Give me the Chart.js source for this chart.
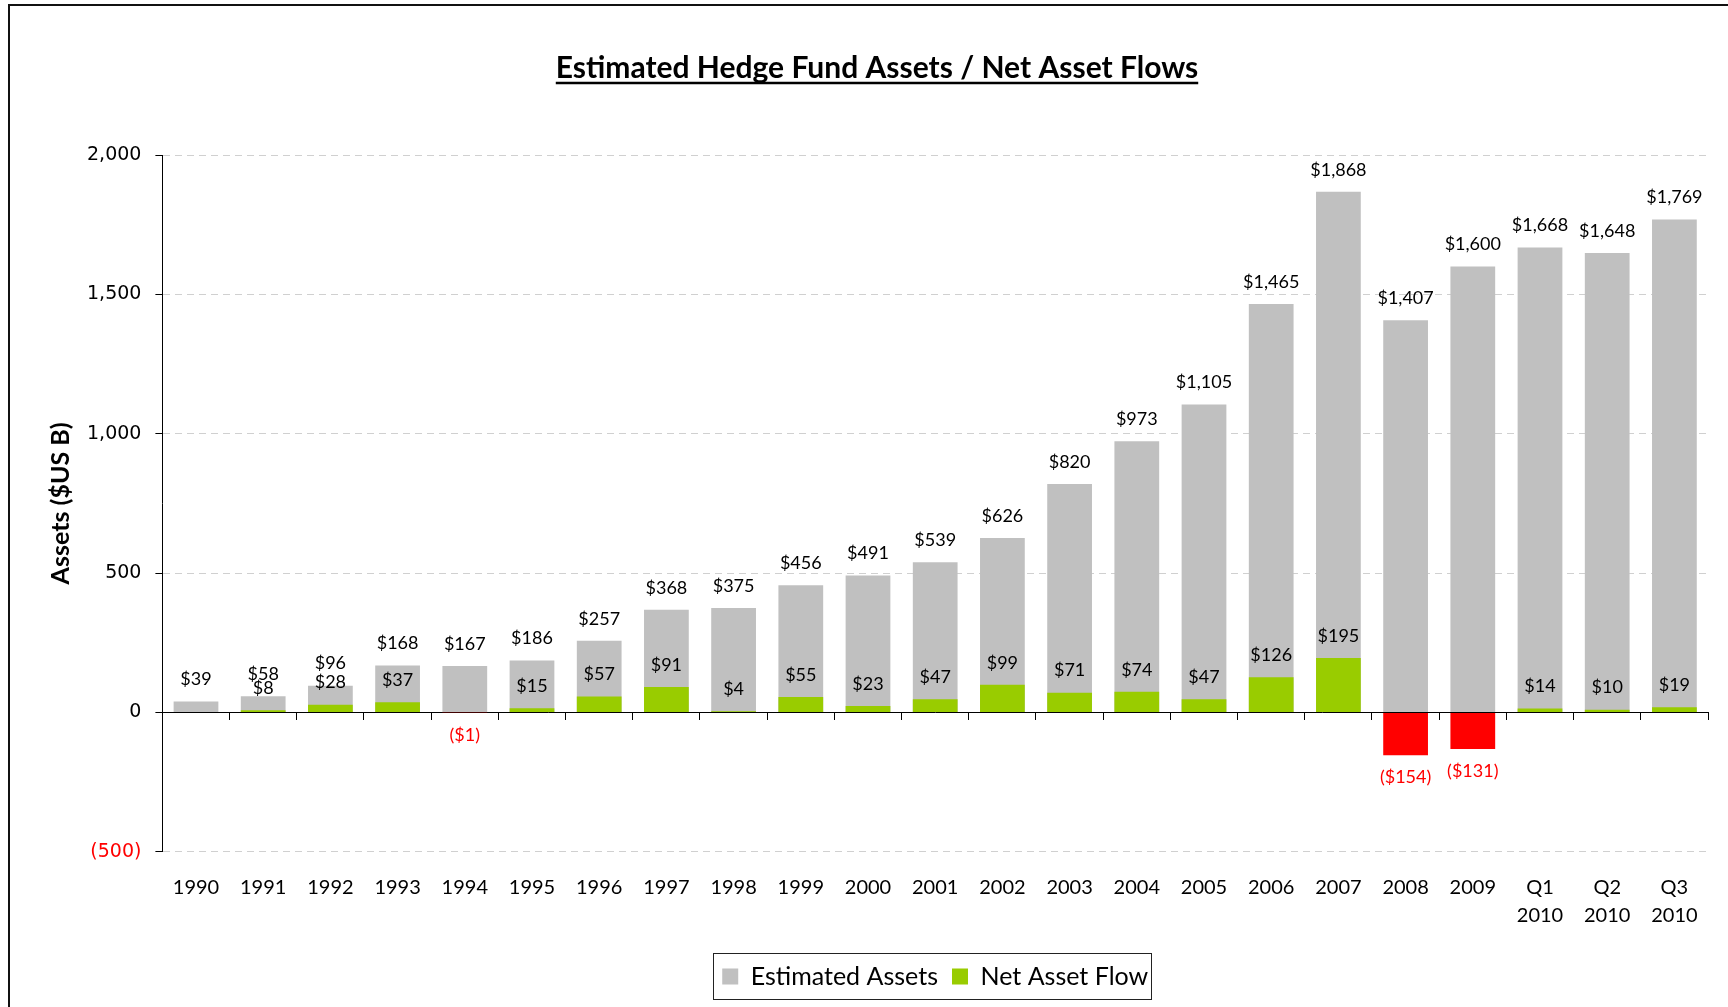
<!DOCTYPE html>
<html>
<head>
<meta charset="utf-8">
<script src="https://cdn.jsdelivr.net/npm/chart.js@4"></script>
<style>
  html, body { margin: 0; padding: 0; background: #fff; overflow: hidden; }
  #wrap { position: relative; width: 1728px; height: 1007px; }
  #frame { position: absolute; left: 8px; top: 4px; width: 1740px; height: 1040px; border: 2px solid #111; pointer-events: none; }
</style>
</head>
<body>
<div id="wrap">
  <canvas id="myChart" width="1728" height="1007"></canvas>
  <div id="frame"></div>
</div>
<script>
const ctx = document.getElementById('myChart');

const categories = ['1990', '1991', '1992', '1993', '1994', '1995', '1996', '1997', '1998', '1999',
    '2000', '2001', '2002', '2003', '2004', '2005', '2006', '2007', '2008', '2009',
    ['Q1', '2010'], ['Q2', '2010'], ['Q3', '2010']];
const assets = [39, 58, 96, 168, 167, 186, 257, 368, 375, 456, 491, 539, 626, 820, 973, 1105, 1465, 1868, 1407, 1600, 1668, 1648, 1769];
const flows = [null, 8, 28, 37, -1, 15, 57, 91, 4, 55, 23, 47, 99, 71, 74, 47, 126, 195, -154, -131, 14, 10, 19];
const yTicks = [-500, 0, 500, 1000, 1500, 2000];

const labelFont = 'Lato, "Open Sans", sans-serif';

function money(v) {
    const s = '$' + Math.abs(v).toLocaleString('en-US');
    return v < 0 ? '(' + s + ')' : s;
}

const barLabels = {
    id: 'barLabels',
    afterDatasetsDraw(chart) {
        const c = chart.ctx;
        c.save();
        c.font = '18px ' + labelFont;
        c.textAlign = 'center';
        c.textBaseline = 'middle';
        chart.data.datasets.forEach((ds, i) => {
            const meta = chart.getDatasetMeta(i);
            meta.data.forEach((bar, j) => {
                const v = ds.data[j];
                if (v === null) return;
                c.fillStyle = v < 0 ? '#ff0000' : '#000';
                const y = v < 0 ? bar.y + 22 : bar.y - 22;
                c.fillText(money(v), bar.x, y);
            });
        });
        c.restore();
    },
    afterDraw(chart) {
        const c = chart.ctx;
        // underline the title
        const t = chart.titleBlock;
        const tf = chart.options.plugins.title.font;
        c.save();
        c.font = 'bold ' + tf.size + 'px ' + tf.family;
        const w = c.measureText(chart.options.plugins.title.text).width;
        const cx = (t.left + t.right) / 2;
        const cy = t.top + chart.options.plugins.title.padding.top + tf.size * 1.2 / 2;
        c.strokeStyle = '#000';
        c.lineWidth = 2.5;
        c.beginPath();
        c.moveTo(cx - w / 2, cy + tf.size * 0.5);
        c.lineTo(cx + w / 2, cy + tf.size * 0.5);
        c.stroke();
        // box round the legend
        const boxes = chart.legend.legendHitBoxes;
        if (boxes && boxes.length) {
            const x0 = Math.min(...boxes.map(b => b.left)) - 9;
            const x1 = Math.max(...boxes.map(b => b.left + b.width)) + 3;
            const y0 = Math.min(...boxes.map(b => b.top)) - 11;
            const y1 = Math.max(...boxes.map(b => b.top + b.height)) + 10;
            c.lineWidth = 1;
            c.strokeStyle = '#222';
            c.strokeRect(Math.round(x0) + 0.5, Math.round(y0) + 0.5, Math.round(x1 - x0), Math.round(y1 - y0));
        }
        c.restore();
    }
};

const data = {
    labels: categories,
    datasets: [{
        label: 'Estimated Assets',
        data: assets,
        backgroundColor: '#c0c0c0',
        grouped: false,
        order: 2,
        barPercentage: 0.9,
        categoryPercentage: 0.74
    }, {
        label: 'Net Asset Flow',
        data: flows,
        backgroundColor: flows.map(v => v < 0 ? '#ff0000' : '#99cc00'),
        grouped: false,
        order: 1,
        barPercentage: 0.9,
        categoryPercentage: 0.74
    }]
};

const config = {
    type: 'bar',
    data: data,
    plugins: [barLabels],
    options: {
        responsive: false,
        animation: false,
        layout: { padding: { left: 46, right: 20, top: 0, bottom: 8 } },
        plugins: {
            title: {
                display: true,
                text: 'Estimated Hedge Fund Assets / Net Asset Flows',
                color: '#000',
                font: { family: labelFont, size: 30, weight: 'bold' },
                padding: { top: 50, bottom: 69 }
            },
            legend: {
                position: 'bottom',
                fullSize: false,
                labels: {
                    color: '#000',
                    font: { family: labelFont, size: 25 },
                    boxWidth: 16,
                    boxHeight: 16,
                    padding: 14,
                    sort: (a, b) => a.datasetIndex - b.datasetIndex,
                    generateLabels: chart => chart.data.datasets.map((ds, i) => ({
                        text: ds.label,
                        fillStyle: i === 0 ? '#c0c0c0' : '#99cc00',
                        strokeStyle: 'rgba(0,0,0,0)',
                        lineWidth: 0,
                        datasetIndex: i
                    }))
                }
            },
            tooltip: { enabled: false }
        },
        scales: {
            x: {
                grid: { display: false },
                border: { display: false },
                afterFit: axis => { axis.height += 7; },
                ticks: {
                    color: '#000',
                    autoSkip: false,
                    maxRotation: 0,
                    padding: 13,
                    font: { family: labelFont, size: 20, lineHeight: 1.43 }
                }
            },
            x2: {
                type: 'category',
                axis: 'x',
                labels: categories,
                position: { y: 0 },
                offset: true,
                grid: { offset: true, drawOnChartArea: false, tickLength: 7, color: '#000' },
                border: { display: true, color: '#000', width: 1 },
                ticks: { display: false }
            },
            y: {
                min: -500,
                max: 2000,
                afterBuildTicks: axis => { axis.ticks = yTicks.map(v => ({ value: v })); },
                title: {
                    display: true,
                    text: 'Assets ($US B)',
                    color: '#000',
                    font: { family: labelFont, size: 25, weight: 'bold' },
                    padding: { top: 0, bottom: -3 }
                },
                grid: {
                    color: '#d0d0d0',
                    tickColor: '#000',
                    tickLength: 7
                },
                border: { display: true, color: '#000', width: 1, dash: [7, 5] },
                ticks: {
                    padding: 14,
                    color: c => c.tick.value < 0 ? '#ff0000' : '#000',
                    font: { family: '"DejaVu Sans", Verdana, sans-serif', size: 19 },
                    callback: v => v < 0 ? '(' + Math.abs(v).toLocaleString('en-US') + ')' : v.toLocaleString('en-US')
                }
            }
        }
    }
};

const chart = new Chart(ctx, config);
</script>
</body>
</html>
